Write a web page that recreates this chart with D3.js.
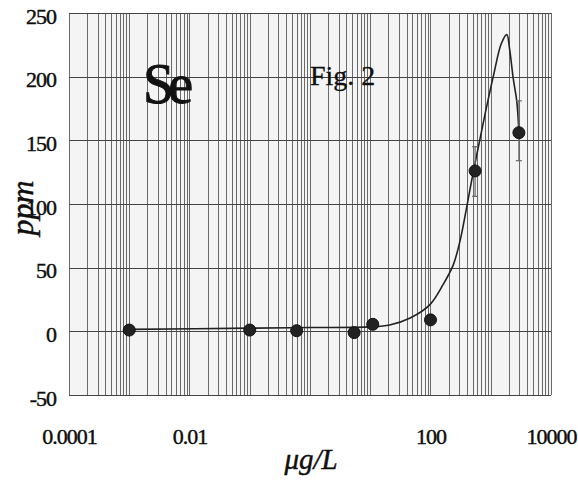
<!DOCTYPE html>
<html>
<head>
<meta charset="utf-8">
<script src="https://cdn.jsdelivr.net/npm/d3@7"></script>
<style>
  body { margin: 0; background: #fff; }
  svg { display: block; }
  text { font-family: "Liberation Serif", "Times New Roman", serif; fill: #111; }
</style>
</head>
<body>
<svg id="chart" width="578" height="480"></svg>
<script>
// ---- data ----
const pointX = [0.001, 0.1, 0.6, 5.4, 11, 100, 550, 2930];
const pointY = [1, 1, 0.5, -1, 5.5, 9, 126, 156];
const errX = [550, 2930];
const errLow = [106, 134];
const errHigh = [145, 181];
const curveX = [0.001, 0.1, 1, 10, 21, 46, 98, 163, 238, 309, 397, 480, 618, 800, 1100, 1500, 1850, 2050, 2370, 2700, 2930];
const curveY = [1.5, 2.5, 3, 3.5, 5, 10.5, 21, 37, 52, 71, 97, 118, 144, 170, 200, 226, 233, 222, 198, 181, 157];
const xTickValues = [0.0001, 0.01, 100, 10000];
const xTickLabels = ["0.0001", "0.01", "100", "10000"];
const yTickValues = [-50, 0, 50, 100, 150, 200, 250];
const yTickLabels = ["-50", "0", "50", "100", "150", "200", "250"];

// ---- layout ----
const svg = d3.select("#chart");
const x = d3.scaleLog().domain([1e-4, 1e4]).range([69, 551]);
const y = d3.scaleLinear().domain([-50, 250]).range([395, 13]);

// light background of plot area
svg.append("rect")
  .attr("x", x(1e-4)).attr("y", y(250))
  .attr("width", x(1e4) - x(1e-4)).attr("height", y(-50) - y(250))
  .attr("fill", "#f4f4f4");

// vertical grid: every 1..9 x decade
const vGrid = [];
for (let e = -4; e < 4; e++) for (let k = 1; k <= 9; k++) vGrid.push(k * Math.pow(10, e));
vGrid.push(1e4);
svg.append("g").selectAll("line").data(vGrid).join("line")
  .attr("x1", d => Math.round(x(d)) + 0.5).attr("x2", d => Math.round(x(d)) + 0.5)
  .attr("y1", y(250)).attr("y2", y(-50))
  .attr("stroke", "#6a6a6a").attr("stroke-width", 1);

// horizontal grid
svg.append("g").selectAll("line").data(yTickValues).join("line")
  .attr("x1", x(1e-4)).attr("x2", x(1e4))
  .attr("y1", d => Math.round(y(d)) + 0.5).attr("y2", d => Math.round(y(d)) + 0.5)
  .attr("stroke", "#444").attr("stroke-width", 1.2);

// axes (labels only)
const yAxis = d3.axisLeft(y).tickValues(yTickValues).tickSize(0).tickPadding(13)
  .tickFormat((d, i) => yTickLabels[i]);
const gy = svg.append("g").attr("transform", `translate(${x(1e-4)},3)`).call(yAxis);
gy.select(".domain").remove();
gy.selectAll("text").style("font-size", "22px").style("letter-spacing", "-1px")
  .style("font-family", "'Liberation Serif', serif").attr("fill", "#000")
  .attr("stroke", "#000").attr("stroke-width", 0.4);

const xAxis = d3.axisBottom(x).tickValues(xTickValues).tickSize(0).tickPadding(33)
  .tickFormat((d, i) => xTickLabels[i]);
const gx = svg.append("g").attr("transform", `translate(0,${y(-50)})`).call(xAxis);
gx.select(".domain").remove();
gx.selectAll("text").style("font-size", "22px").style("letter-spacing", "-1px")
  .style("font-family", "'Liberation Serif', serif").attr("fill", "#000")
  .attr("stroke", "#000").attr("stroke-width", 0.4);

// curve
const curveData = curveX.map((v, i) => [v, curveY[i]]);
svg.append("path").datum(curveData)
  .attr("d", d3.line().x(d => x(d[0])).y(d => y(d[1])).curve(d3.curveCatmullRom.alpha(0.5)))
  .attr("fill", "none").attr("stroke", "#222").attr("stroke-width", 1.6);

// error bars
const errG = svg.append("g").attr("stroke", "#666").attr("stroke-width", 1.2);
errX.forEach((v, i) => {
  const cx = x(v);
  errG.append("line").attr("x1", cx).attr("x2", cx).attr("y1", y(errLow[i])).attr("y2", y(errHigh[i]));
  errG.append("line").attr("x1", cx - 3).attr("x2", cx + 3).attr("y1", y(errLow[i])).attr("y2", y(errLow[i]));
  errG.append("line").attr("x1", cx - 3).attr("x2", cx + 3).attr("y1", y(errHigh[i])).attr("y2", y(errHigh[i]));
});

// points
svg.append("g").selectAll("circle").data(pointX).join("circle")
  .attr("cx", d => x(d)).attr("cy", (d, i) => y(pointY[i]))
  .attr("r", 6).attr("fill", "#222").attr("stroke", "#111").attr("stroke-width", 1);

// annotations
svg.append("text").attr("x", 143).attr("y", 103)
  .style("font-size", "56px").style("letter-spacing", "-6px")
  .attr("stroke", "#111").attr("stroke-width", 1).text("Se");
svg.append("text").attr("x", 310).attr("y", 85)
  .style("font-size", "28px").attr("stroke", "#111").attr("stroke-width", 0.3).text("Fig. 2");

// axis titles
svg.append("text").attr("transform", "translate(33,208) rotate(-90)")
  .attr("text-anchor", "middle").style("font-size", "32px").style("font-style", "italic")
  .attr("stroke", "#000").attr("stroke-width", 0.4).text("ppm");
svg.append("text").attr("x", 311).attr("y", 469)
  .attr("text-anchor", "middle").style("font-size", "29px").style("font-style", "italic")
  .attr("stroke", "#000").attr("stroke-width", 0.4).text("μg/L");
</script>
</body>
</html>
